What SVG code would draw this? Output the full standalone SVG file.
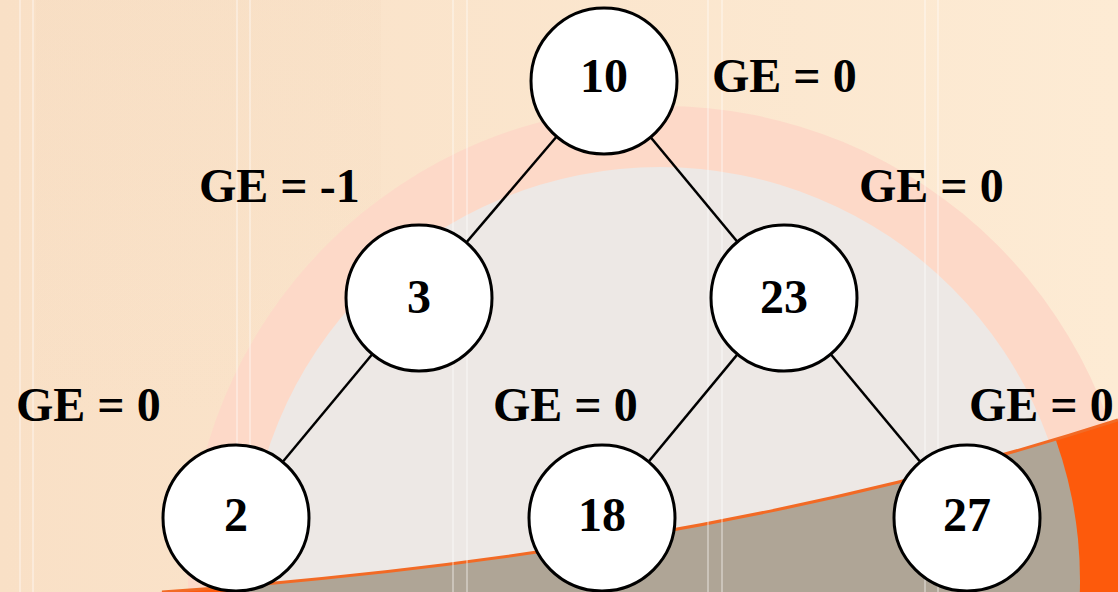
<svg xmlns="http://www.w3.org/2000/svg" width="1118" height="592" viewBox="0 0 1118 592">
  <defs>
    <linearGradient id="bg" x1="0" y1="0" x2="1" y2="0">
      <stop offset="0" stop-color="#f9e0c6"/>
      <stop offset="1" stop-color="#fdebd4"/>
    </linearGradient>
    <linearGradient id="patch" x1="0" y1="0" x2="0" y2="1">
      <stop offset="0" stop-color="#e6c6a6" stop-opacity="0.08"/>
      <stop offset="1" stop-color="#e6c6a6" stop-opacity="0"/>
    </linearGradient>
    <clipPath id="below">
      <path d="M150,600 L160,592 Q700,555 1118,420 L1118,600 Z"/>
    </clipPath>
    <style>
      .node circle { fill: #ffffff; stroke: #000000; stroke-width: 3; }
      .num { font-family: "Liberation Serif", "Times New Roman", serif; font-weight: bold; font-size: 48px; fill: #000000; text-anchor: middle; }
      .lbl { font-family: "Liberation Serif", "Times New Roman", serif; font-weight: bold; font-size: 48px; fill: #000000; }
      .edge { stroke: #000000; stroke-width: 2.5; fill: none; }
      .stripe { stroke: #ffffff; stroke-width: 2; opacity: 0.35; }
    </style>
  </defs>

  <g id="background">
    <rect x="0" y="0" width="1118" height="592" fill="url(#bg)"/>
    <rect x="36" y="0" width="345" height="420" fill="url(#patch)"/>
    <circle cx="662" cy="580" r="474" fill="#fdd9c8"/>
    <circle cx="660" cy="580" r="413" fill="#ede8e5"/>
    <g clip-path="url(#below)">
      <rect x="0" y="400" width="1118" height="200" fill="#fd5a0c"/>
      <circle cx="662" cy="580" r="418" fill="#afa596"/>
    </g>
    <path d="M162,592 Q700,555 1118,420" fill="none" stroke="#f26a25" stroke-width="3"/>
    <g>
      <line class="stripe" x1="20" y1="0" x2="20" y2="592"/>
      <line class="stripe" x1="33" y1="0" x2="33" y2="592"/>
      <line class="stripe" x1="237" y1="0" x2="237" y2="592"/>
      <line class="stripe" x1="250" y1="0" x2="250" y2="592"/>
      <line class="stripe" x1="453" y1="0" x2="453" y2="592"/>
      <line class="stripe" x1="467" y1="0" x2="467" y2="592"/>
      <line class="stripe" x1="708" y1="0" x2="708" y2="592"/>
      <line class="stripe" x1="722" y1="0" x2="722" y2="592"/>
      <line class="stripe" x1="925" y1="0" x2="925" y2="592"/>
      <line class="stripe" x1="938" y1="0" x2="938" y2="592"/>
    </g>
  </g>

  <g id="connectors">
    <line class="edge" x1="604" y1="81" x2="419" y2="298"/>
    <line class="edge" x1="604" y1="81" x2="784" y2="298"/>
    <line class="edge" x1="419" y1="298" x2="236" y2="518"/>
    <line class="edge" x1="784" y1="298" x2="602" y2="518"/>
    <line class="edge" x1="784" y1="298" x2="967" y2="518"/>
  </g>

  <g id="node-10" class="node">
    <circle cx="604" cy="81" r="73"/>
    <text class="num" x="604" y="92">10</text>
  </g>
  <g id="node-3" class="node">
    <circle cx="419" cy="298" r="73"/>
    <text class="num" x="419" y="313">3</text>
  </g>
  <g id="node-23" class="node">
    <circle cx="784" cy="298" r="73"/>
    <text class="num" x="784" y="313">23</text>
  </g>
  <g id="node-2" class="node">
    <circle cx="236" cy="518" r="73"/>
    <text class="num" x="236" y="531">2</text>
  </g>
  <g id="node-18" class="node">
    <circle cx="602" cy="518" r="73"/>
    <text class="num" x="602" y="531">18</text>
  </g>
  <g id="node-27" class="node">
    <circle cx="967" cy="518" r="73"/>
    <text class="num" x="967" y="531">27</text>
  </g>

  <g id="labels">
    <text class="lbl" x="712" y="92">GE = 0</text>
    <text class="lbl" x="199" y="202">GE = -1</text>
    <text class="lbl" x="859" y="202">GE = 0</text>
    <text class="lbl" x="16" y="421">GE = 0</text>
    <text class="lbl" x="493" y="421">GE = 0</text>
    <text class="lbl" x="969" y="421">GE = 0</text>
  </g>
</svg>
